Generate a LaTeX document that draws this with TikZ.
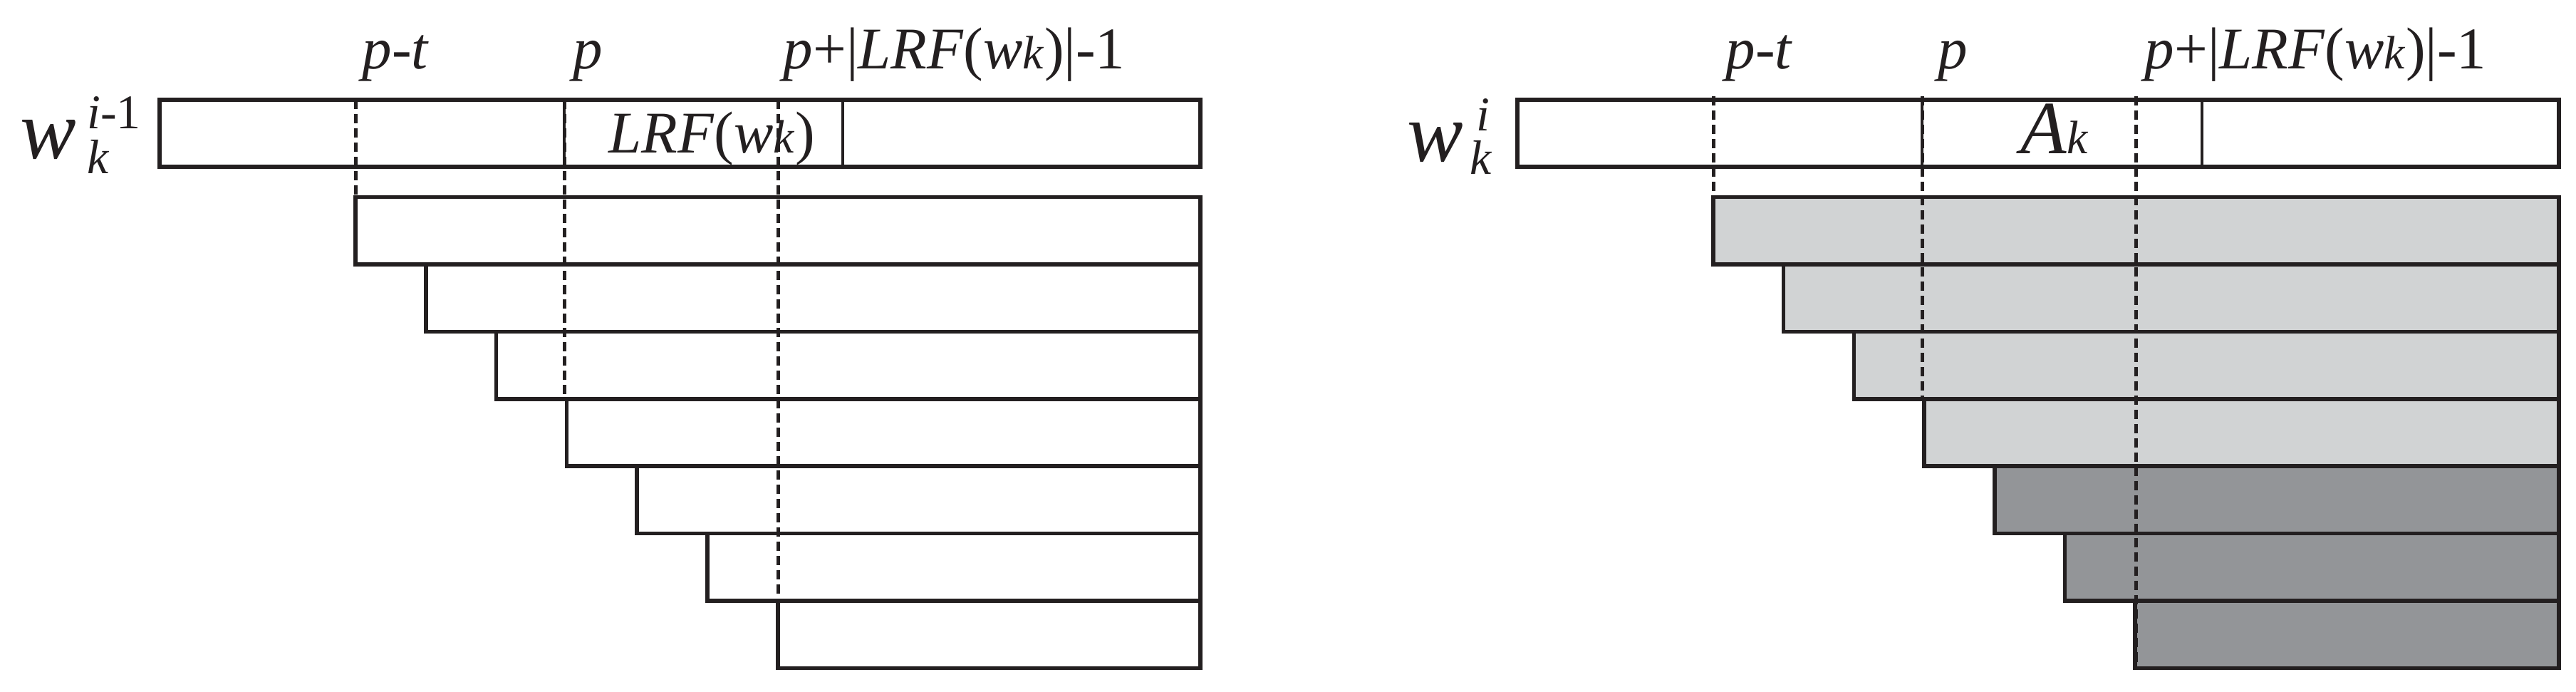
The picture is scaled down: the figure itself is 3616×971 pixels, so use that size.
\documentclass[tikz,border=0pt]{standalone}
\usepackage{fontspec}
\setmainfont{Liberation Serif}
\definecolor{ink}{HTML}{231F20}
\definecolor{lightfill}{HTML}{D1D3D4}
\definecolor{darkfill}{HTML}{939598}
\newcommand\labfont{\fontsize{23.6pt}{28pt}\selectfont}
\newcommand\wfont{\fontsize{33.5pt}{40pt}\selectfont}
\newcommand\scrfont{\fontsize{19.3pt}{23pt}\selectfont}
\newcommand\wkk{\textit{w}{\fontsize{18.7pt}{20pt}\selectfont\textit{k}}}
\tikzset{
  bar/.style={draw=ink, line width=0.055cm},
  divline/.style={draw=ink, line width=0.045cm},
  guide/.style={draw=ink, line width=0.05cm, dash pattern=on 0.13cm off 0.07cm},
  lbl/.style={inner sep=0pt, anchor=base west, text=ink, font=\labfont},
  wlbl/.style={inner sep=0pt, anchor=base west, text=ink, font=\wfont},
}
\begin{document}
\begin{tikzpicture}[x=0.01cm, y=-0.01cm]
\useasboundingbox (0,0) rectangle (3616,971);

% ---------- left panel ----------
\draw[bar] (224,140) rectangle (1685,234);
\draw[divline] (792,140) -- (792,234);
\draw[divline] (1183,140) -- (1183,234);
\foreach \i in {0,...,6} {
  \pgfmathsetmacro\xl{499+98.8*\i}
  \pgfmathsetmacro\yt{276.5+94.43*\i}
  \pgfmathsetmacro\yb{\yt+94.43}
  \draw[bar] (\xl,\yt) rectangle (1685,\yb);
}
\draw[guide] (499,140) -- (499,371);
\draw[guide] (792,140) -- (792,560);
\draw[guide] (1092,140) -- (1092,937.5);

\node[lbl] (lpt) at (508,97) {\textit{p}-\textit{t}};
\node[lbl] (lp) at (804,97) {\textit{p}};
\node[lbl] (lpl) at (1099,97) {\textit{p}+|\textit{LRF}(\wkk)|-1};
\node[lbl] (llrf) at (854,215) {\textit{LRF}(\wkk)};
\node[wlbl] (lw) at (28,223) {\textit{w}\kern4.3pt\rlap{\scrfont\raisebox{12.2pt}{\textit{i}-1}}\raisebox{-5.7pt}{\scrfont\textit{k}}};

% ---------- right panel ----------
\draw[bar] (2130,140) rectangle (3592,234);
\draw[divline] (2698,140) -- (2698,234);
\draw[divline] (3091,140) -- (3091,234);
\foreach \i in {0,...,6} {
  \pgfmathsetmacro\xl{2405+98.7*\i}
  \pgfmathsetmacro\yt{276.5+94.43*\i}
  \pgfmathsetmacro\yb{\yt+94.43}
  \ifnum\i<4
    \draw[bar, fill=lightfill] (\xl,\yt) rectangle (3592,\yb);
  \else
    \draw[bar, fill=darkfill] (\xl,\yt) rectangle (3592,\yb);
  \fi
}
\draw[guide] (2405,135) -- (2405,276.5);
\draw[guide] (2698,135) -- (2698,560);
\draw[guide] (2998,135) -- (2998,937.5);

\node[lbl] (rpt) at (2422,97) {\textit{p}-\textit{t}};
\node[lbl] (rp) at (2720,97) {\textit{p}};
\node[lbl] (rpl) at (3010,97) {\textit{p}+|\textit{LRF}(\wkk)|-1};
\node[lbl] (rak) at (2836,216) {{\fontsize{30pt}{34pt}\selectfont\textit{A}}{\fontsize{18.7pt}{20pt}\selectfont\textit{k}}};
\node[wlbl] (rw) at (1975,227) {\textit{w}\kern2.5pt\rlap{\kern2.8pt\scrfont\raisebox{12.5pt}{\textit{i}}}\raisebox{-5.1pt}{\scrfont\textit{k}}};
\end{tikzpicture}
\end{document}
